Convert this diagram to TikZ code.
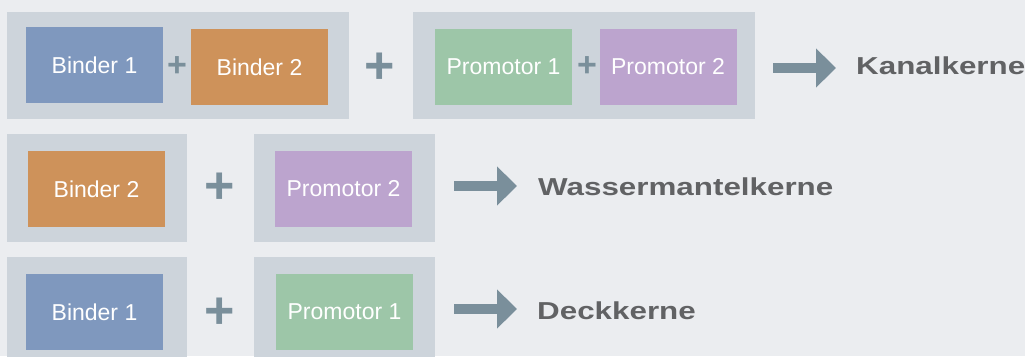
\documentclass[tikz,border=0pt]{standalone}
\usepackage{fontspec}
\setmainfont{Liberation Sans}
\newfontfamily\kernfont{Liberation Sans}[FakeStretch=1.28]
\usetikzlibrary{arrows.meta,positioning}

\definecolor{bggray}{HTML}{EBEDF0}
\definecolor{panelgray}{HTML}{CDD4DB}
\definecolor{binderblue}{HTML}{7F98BE}
\definecolor{binderorange}{HTML}{CE925A}
\definecolor{promgreen}{HTML}{9DC6A8}
\definecolor{prompurple}{HTML}{BCA4CE}
\definecolor{signgray}{HTML}{7A8F9B}
\definecolor{labelgray}{HTML}{616264}

\tikzset{
  panel/.style={fill=panelgray, inner sep=0pt, minimum height=108pt},
  core/.style={minimum width=137pt, minimum height=76pt, inner sep=0pt,
    text=white, font=\fontsize{23}{23}\selectfont},
  plussign/.style={text=signgray, inner sep=0pt, font=\bfseries\fontsize{#1}{#1}\selectfont},
  result/.style={anchor=west, inner sep=0pt, text=labelgray,
    font=\kernfont\bfseries\fontsize{24.5}{25}\selectfont},
  fatarrow/.style={draw=signgray, line width=10pt, -{Triangle[width=38pt,length=20pt]}}
}

\begin{document}
\begin{tikzpicture}[x=1pt,y=-1pt]
  \useasboundingbox (0,0) rectangle (1025,356);
  \clip (0,0) rectangle (1025,356);
  \fill[bggray] (0,0) rectangle (1025,356);

  % Kanalkerne
  \node[panel, minimum width=342pt, minimum height=107pt] (pA) at (178,65.5) {};
  \node[panel, minimum width=342pt, minimum height=107pt] (pB) at (584,65.5) {};
  \node[core, fill=binderblue] (binderA) at (94.5,65) {Binder 1};
  \node[core, fill=binderorange] (binderB) at (259.5,67) {Binder 2};
  \node[plussign=34] (plusA) at (177,67) {+};
  \node[plussign=52] (plusB) at (380,68) {+};
  \node[core, fill=promgreen] (promA) at (503.5,67) {Promotor 1};
  \node[core, fill=prompurple] (promB) at (668,67) {Promotor 2};
  \node[plussign=34] (plusC) at (587,67) {+};
  \node[result] (kanal) at (856,65.5) {Kanalkerne};
  \draw[fatarrow] ([xshift=18pt,yshift=-2.5pt]pB.east)
    -- ([xshift=-20pt,yshift=-2.5pt]kanal.west |- pB.east);

  % Wassermantelkerne
  \node[panel, minimum width=180pt] (pC) at (97,188) {};
  \node[panel, minimum width=181pt] (pD) at (344.5,188) {};
  \node[core, fill=binderorange] (binderC) at (96.5,189) {Binder 2};
  \node[plussign=52] (plusD) at (220,188) {+};
  \node[core, fill=prompurple] (promC) at (343.5,189) {Promotor 2};
  \node[result] (wasser) at (538,187) {Wassermantelkerne};
  \draw[fatarrow] ([xshift=19pt,yshift=2pt]pD.east)
    -- ([xshift=-21pt,yshift=2pt]wasser.west |- pD.east);

  % Deckkerne
  \node[panel, minimum width=180pt] (pE) at (97,311) {};
  \node[panel, minimum width=181pt] (pF) at (344.5,311) {};
  \node[core, fill=binderblue] (binderD) at (94.5,312) {Binder 1};
  \node[plussign=52] (plusE) at (220,313) {+};
  \node[core, fill=promgreen] (promD) at (344.5,312) {Promotor 1};
  \node[result] (deck) at (537,311) {Deckkerne};
  \draw[fatarrow] ([xshift=19pt,yshift=2pt]pF.east)
    -- ([xshift=-20pt,yshift=2pt]deck.west |- pF.east);
\end{tikzpicture}
\end{document}
